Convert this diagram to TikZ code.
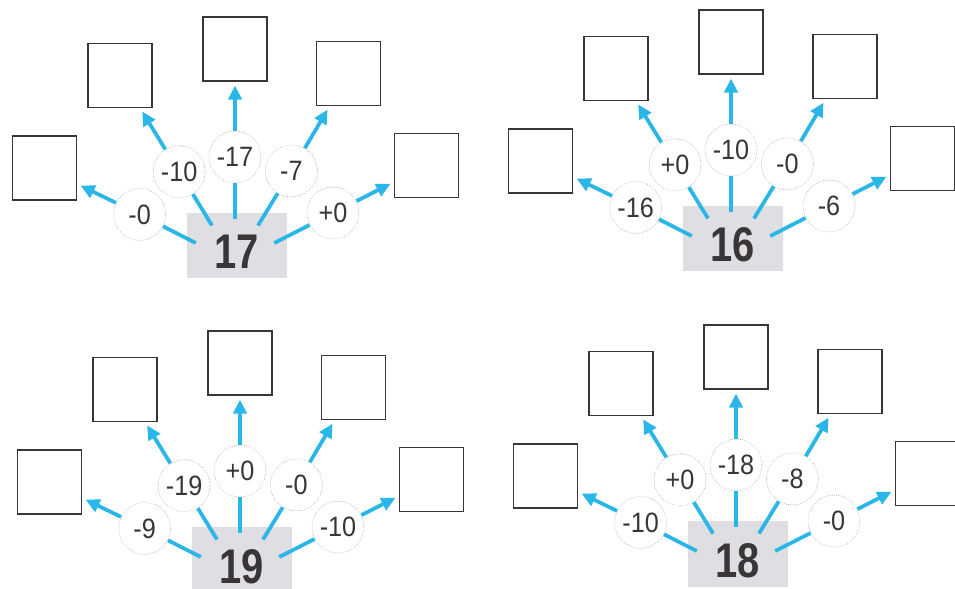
\documentclass[tikz,border=0pt]{standalone}
\usepackage{fontspec}
\usetikzlibrary{arrows.meta}
\newfontfamily\labfont[FakeStretch=0.9]{Liberation Sans}
\newfontfamily\numfont[FakeStretch=0.82]{Liberation Sans}
\definecolor{arrowblue}{HTML}{29B6E8}
\definecolor{ink}{HTML}{3A3536}
\definecolor{boxgray}{HTML}{DFDEE3}
\definecolor{rim}{HTML}{B0B0B0}
\tikzset{
  ansbox/.style={draw=ink, line width=1pt, minimum size=48pt, inner sep=0pt, fill=white},
  opcircle/.style={circle, draw=rim, densely dotted, line width=0.5pt, fill=white,
    minimum size=39pt, inner sep=0pt, text=ink, font=\labfont\fontsize{21}{21}\selectfont},
  numbox/.style={fill=boxgray, minimum width=75pt, minimum height=48.75pt, inner sep=0pt,
    text=ink, text height=34.5pt, text depth=0pt,
    font=\numfont\bfseries\fontsize{36.5}{36.5}\selectfont},
  ray/.style={draw=arrowblue, line width=2.8pt, shorten <=33pt},
  fanarrow/.style={draw=arrowblue, line width=2.8pt,
    -{Triangle[length=10.5pt,width=10pt]}, shorten >=3pt},
}
\newcommand\numfan[9]{%
  \begin{scope}[shift={(#2,#3)}]
    \coordinate (#1f) at (0,0);
    \node[numbox] (#1n) at (1.5,17) {#4};
    \node[opcircle] (#1c1) at (153:107) {#5};
    \node[opcircle] (#1c2) at (121.5:107) {#6};
    \node[opcircle] (#1c3) at (90:106) {#7};
    \node[opcircle] (#1c4) at (58.5:108) {#8};
    \node[opcircle] (#1c5) at (27:110) {#9};
    \node[ansbox] (#1b1) at (153.5:213) {};
    \node[ansbox] (#1b2) at (121.5:220) {};
    \node[ansbox] (#1b3) at (90:214) {};
    \node[ansbox] (#1b4) at (59:221) {};
    \node[ansbox] (#1b5) at (27:215) {};
    \foreach \i in {1,...,5} {
      \draw[ray] (#1f) -- (#1c\i);
      \draw[fanarrow] (#1c\i) -- (#1b\i);
    }
  \end{scope}}
\begin{document}
\begin{tikzpicture}[x=0.75pt,y=0.75pt]
  \useasboundingbox (0,0) rectangle (955,588);
  \fill[white] (0,0) rectangle (955,588);
  \clip (0,0) rectangle (955,588);
  \numfan{A}{235}{325}{17}{-0}{-10}{-17}{-7}{+0}
  \numfan{B}{731}{332}{16}{-16}{+0}{-10}{-0}{-6}
  \numfan{C}{240}{11}{19}{-9}{-19}{+0}{-0}{-10}
  \numfan{D}{736}{17}{18}{-10}{+0}{-18}{-8}{-0}
\end{tikzpicture}
\end{document}
